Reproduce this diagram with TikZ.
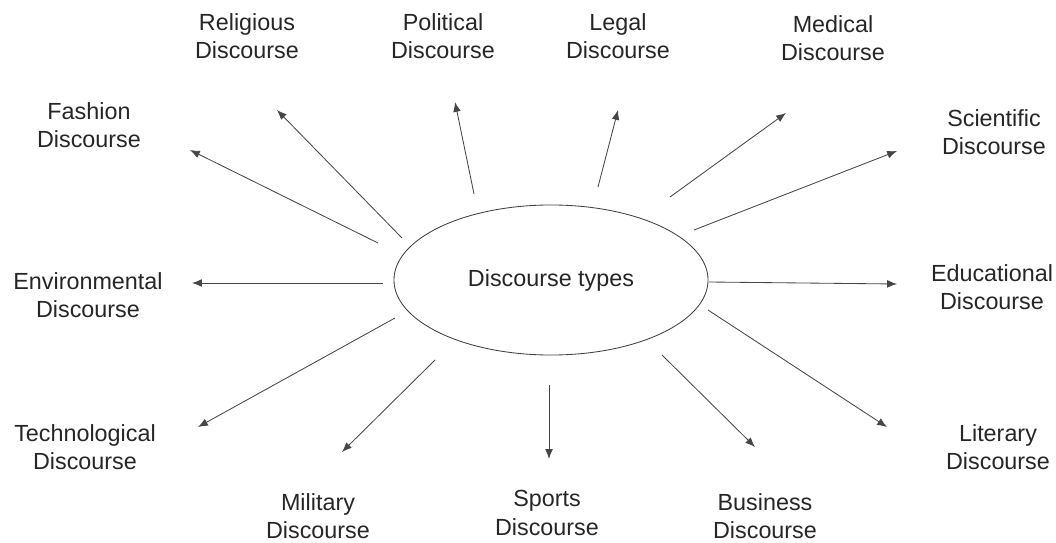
\documentclass[tikz,border=0pt]{standalone}
\usepackage{fontspec}
\setmainfont{Liberation Sans}
\usetikzlibrary{arrows.meta,shapes.geometric}
\definecolor{linegray}{RGB}{70,70,70}

\begin{document}
\begin{tikzpicture}[x=0.025cm, y=-0.025cm,
    every node/.style={font=\fontsize{16.6}{20}\selectfont, text=black!85},
    kind/.style={align=center},
    arr/.style={draw=linegray, line width=0.6pt, -{Latex[length=7pt,width=5.5pt]}}]
\useasboundingbox (0,0) rectangle (1056,543);
\node[draw=black!75, line width=0.6pt, ellipse, minimum width=7.85cm, minimum height=3.75cm] (types) at (551,280) {Discourse types};
% labels
\node[kind] (rel)  at (247,36)  {Religious\\Discourse};
\node[kind] (pol)  at (443,36)  {Political\\Discourse};
\node[kind] (leg)  at (618,36)  {Legal\\Discourse};
\node[kind] (med)  at (833,38)  {Medical\\Discourse};
\node[kind] (fas)  at (89,125)  {Fashion\\Discourse};
\node[kind] (sci)  at (994,132) {Scientific\\Discourse};
\node[kind] (env)  at (88,295)  {Environmental\\Discourse};
\node[kind] (edu)  at (992,287) {Educational\\Discourse};
\node[kind] (tec)  at (85,447)  {Technological\\Discourse};
\node[kind] (lit)  at (998,447) {Literary\\Discourse};
\node[kind] (mil)  at (318,516) {Military\\Discourse};
\node[kind] (spo)  at (547,513) {Sports\\Discourse};
\node[kind] (bus)  at (765,516) {Business\\Discourse};
% arrows
\foreach \n/\sx/\sy/\ex/\ey in {rel/402/238/277/110, pol/474/194/455/102, leg/598/187/618/110,
    med/670/197/786/113, fas/378/243/190/150, sci/694/230/897/151, env/383/283/192/283,
    edu/709/282/897/284, tec/395/318/198/427, lit/708/310/887/427, mil/435/360/342/452,
    spo/549/385/549/459, bus/662/355/755/447} {
    \coordinate (s-\n) at (\sx,\sy);
    \coordinate (e-\n) at (\ex,\ey);
    \draw[arr] (s-\n) -- (e-\n);
}
\end{tikzpicture}
\end{document}
